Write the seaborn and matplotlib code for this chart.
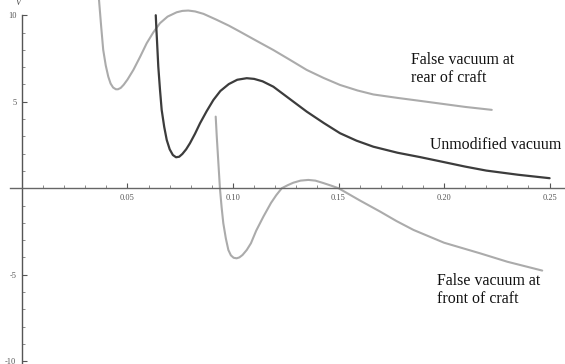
import matplotlib
matplotlib.use("Agg")
import matplotlib.pyplot as plt
import seaborn as sns
import pandas as pd
from matplotlib.ticker import MultipleLocator, FixedLocator

# values
rear_x = [0.0365, 0.0375, 0.0385, 0.0397, 0.0409, 0.0420, 0.0432, 0.0445, 0.0455, 0.0468,
          0.0482, 0.0500, 0.0528, 0.0560, 0.0591, 0.0622, 0.0654, 0.0690, 0.0733, 0.0760,
          0.0788, 0.0820, 0.0860, 0.0920, 0.0980, 0.1033, 0.1110, 0.1191, 0.1270, 0.1349,
          0.1430, 0.1507, 0.1590, 0.1665, 0.1780, 0.1886, 0.1990, 0.2100, 0.2226]
rear_y = [10.9, 9.4, 8.0, 7.1, 6.45, 6.05, 5.82, 5.72, 5.72, 5.80,
          5.98, 6.28, 6.84, 7.60, 8.38, 9.00, 9.54, 9.92, 10.17, 10.25,
          10.27, 10.22, 10.08, 9.75, 9.40, 9.05, 8.53, 7.99, 7.42, 6.84,
          6.37, 5.97, 5.65, 5.42, 5.22, 5.05, 4.88, 4.70, 4.53]

unmod_x = [0.0634, 0.0637, 0.0640, 0.0646, 0.0654, 0.0662, 0.0674, 0.0686, 0.0700, 0.0715,
           0.0730, 0.0745, 0.0760, 0.0778, 0.0796, 0.0820, 0.0844, 0.0875, 0.0907, 0.0940,
           0.0980, 0.1020, 0.1065, 0.1100, 0.1140, 0.1191, 0.1270, 0.1349, 0.1430, 0.1507,
           0.1585, 0.1665, 0.1780, 0.1886, 0.1980, 0.2100, 0.2200, 0.2350, 0.2500]
unmod_y = [10.0, 9.2, 8.5, 7.03, 5.70, 4.53, 3.55, 2.79, 2.25, 1.92,
           1.79, 1.82, 1.98, 2.25, 2.60, 3.15, 3.76, 4.45, 5.10, 5.62,
           6.02, 6.27, 6.36, 6.32, 6.18, 5.87, 5.15, 4.43, 3.77, 3.18,
           2.75, 2.40, 2.05, 1.80, 1.56, 1.25, 1.02, 0.78, 0.58]

front_x = [0.0918, 0.0923, 0.0928, 0.0933, 0.0938, 0.0946, 0.0954, 0.0966, 0.0978, 0.0990,
           0.1003, 0.1017, 0.1030, 0.1045, 0.1065, 0.1085, 0.1110, 0.1144, 0.1180, 0.1205,
           0.1231, 0.1260, 0.1286, 0.1320, 0.1357, 0.1390, 0.1428, 0.1465, 0.1500, 0.1600,
           0.1697, 0.1775, 0.1855, 0.2000, 0.2170, 0.2300, 0.2465]
front_y = [4.14, 3.0, 2.0, 1.0, 0.0, -1.10, -2.02, -2.90, -3.57, -3.88,
           -4.02, -4.05, -4.00, -3.86, -3.57, -3.18, -2.45, -1.64, -0.85, -0.40,
           0.00, 0.18, 0.32, 0.44, 0.48, 0.44, 0.30, 0.15, 0.00, -0.70,
           -1.35, -1.90, -2.41, -3.15, -3.76, -4.25, -4.76]

x_major = [0.05, 0.10, 0.15, 0.20, 0.25]
x_labels = ["0.05", "0.10", "0.15", "0.20", "0.25"]
x_minor = [0.01, 0.02, 0.03, 0.04, 0.06, 0.07, 0.08, 0.09, 0.11, 0.12, 0.13, 0.14,
           0.16, 0.17, 0.18, 0.19, 0.21, 0.22, 0.23, 0.24]
y_major = [-10, -5, 5, 10]
y_labels = ["-10", "-5", "5", "10"]

labels = ["False vacuum at\nrear of craft", "Unmodified vacuum", "False vacuum at\nfront of craft"]

sns.set_style("white")
plt.rcParams["font.family"] = ["Liberation Serif", "DejaVu Serif"]

fig = plt.figure(figsize=(5.65, 3.64), dpi=100)
ax = fig.add_axes([0, 0, 1, 1])

light = "#ababab"
dark = "#3c3c3c"
sns.lineplot(data=pd.DataFrame({"x": rear_x, "y": rear_y}), x="x", y="y", sort=False,
             ax=ax, color=light, lw=1.5, estimator=None)
sns.lineplot(data=pd.DataFrame({"x": front_x, "y": front_y}), x="x", y="y", sort=False,
             ax=ax, color=light, lw=1.5, estimator=None)
sns.lineplot(data=pd.DataFrame({"x": unmod_x, "y": unmod_y}), x="x", y="y", sort=False,
             ax=ax, color=dark, lw=1.6, estimator=None)

ax.set_xlim(-0.0104, 0.2573)
ax.set_ylim(-10.16, 10.88)
ax.set_xlabel("")
ax.set_ylabel("")

for s in ["top", "right"]:
    ax.spines[s].set_visible(False)
ax.spines["left"].set_position(("data", 0))
ax.spines["bottom"].set_position(("data", 0))
ax.spines["left"].set_bounds(-10.16, 10)
ax.spines["bottom"].set_bounds(-0.0055, 0.2573)
ax.spines["left"].set_color("#555555")
ax.spines["bottom"].set_color("#666666")
ax.spines["left"].set_linewidth(1.0)
ax.spines["bottom"].set_linewidth(1.0)

ax.xaxis.set_major_locator(FixedLocator(x_major))
ax.set_xticklabels(x_labels)
ax.xaxis.set_minor_locator(FixedLocator(x_minor))
ax.yaxis.set_major_locator(FixedLocator(y_major))
ax.set_yticklabels(y_labels)
ax.yaxis.set_minor_locator(MultipleLocator(1))
ax.tick_params(axis="both", which="both", bottom=True, left=True)
ax.tick_params(axis="both", which="major", direction="in", length=3.5, width=0.8,
               colors="#555555", labelsize=6, pad=4)
ax.tick_params(axis="both", which="minor", direction="in", length=2, width=0.6,
               colors="#777777")
for t in ax.get_xticklabels() + ax.get_yticklabels():
    t.set_color("#555555")

ax.text(-0.0006, 10.7, "V", fontsize=6, style="italic", color="#444444", ha="right", va="center")

ax.text(0.1843, 6.9, labels[0], fontsize=11.4, color="#111111", ha="left", va="center",
        linespacing=1.15)
ax.text(0.1935, 2.52, labels[1], fontsize=11.4, color="#111111", ha="left", va="center")
ax.text(0.1965, -5.9, labels[2], fontsize=11.4, color="#111111", ha="left", va="center",
        linespacing=1.15)

fig.savefig("out.png", dpi=100)
